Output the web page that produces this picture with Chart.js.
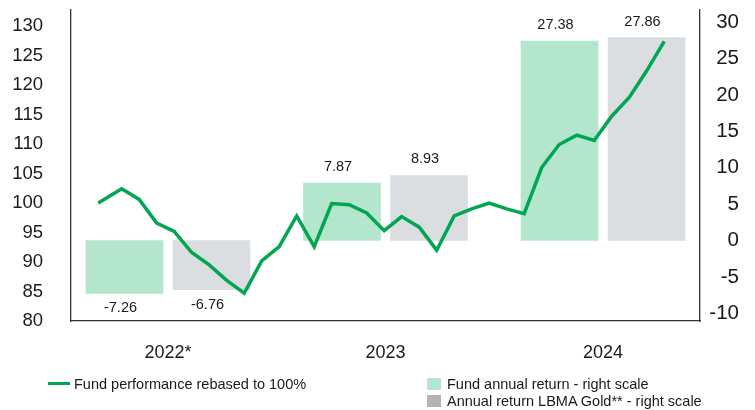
<!DOCTYPE html>
<html>
<head>
<meta charset="utf-8">
<title>Fund performance</title>
<script src="https://cdn.jsdelivr.net/npm/chart.js@4.4.1/dist/chart.umd.min.js"></script>
<style>
    html, body { margin: 0; padding: 0; background: #fff; }
    #wrap {
        position: relative;
        width: 755px;
        height: 410px;
        font-family: "Liberation Sans", Arial, sans-serif;
        color: #1a1a1a;
    }
    #chart { position: absolute; left: 0; top: 0; }
    .legend-item {
        position: absolute;
        font-size: 14.5px;
        line-height: 16px;
        white-space: nowrap;
    }
    .legend-swatch { position: absolute; }
</style>
</head>
<body>
<div id="wrap">
    <canvas id="chart" width="755" height="410"></canvas>
    <div id="legend"></div>
</div>
<script>
// Year groups on the bottom axis
const years = ['2022*', '2023', '2024'];

// Annual returns in % (right scale)
const fundReturns = [-7.26, 7.87, 27.38];
const goldReturns = [-6.76, 8.93, 27.86];

// Fund performance rebased to 100 (left scale): launch point, then month ends
const perfValues = [
    100.0, 102.4, 100.6, 96.6, 95.2, 91.6, 89.5, 86.9, 84.7, 90.2, 92.6,
    97.8, 92.6, 99.9, 99.7, 98.3, 95.3, 97.7, 95.9, 92.0, 97.8, 99.0,
    100.0, 99.0, 98.2, 106.0, 109.9, 111.5, 110.6, 114.7, 117.9, 122.4, 127.4
];
// launch falls part way into the month before the first month end
const launchOffset = -1.34;

// Tick labels
const leftTicks = [80, 85, 90, 95, 100, 105, 110, 115, 120, 125, 130];
const rightTicks = [-10, -5, 0, 5, 10, 15, 20, 25, 30];

const colors = {
    line: '#00a651',
    fundBar: '#b4e6cd',
    goldBar: '#dadee1',
    goldLegend: '#b3b3b3',
    axis: '#333333',
    text: '#1a1a1a'
};
const fontFamily = '"Liberation Sans", Arial, sans-serif';

// year axis range; the two bar series sit either side of the year centre
const yearMin = -0.446;
const yearMax = 2.446;
const groupShift = 0.2;

const perfPoints = perfValues.map((v, i) => ({
    x: i === 0 ? launchOffset : i - 1,
    y: v
}));

/**
 * Draw the value above (or below, if negative) each annual return bar
 */
const barValueLabels = {
    id: 'barValueLabels',
    afterDatasetsDraw(chart) {
        const ctx = chart.ctx;
        ctx.save();
        ctx.font = '14.5px ' + fontFamily;
        ctx.fillStyle = colors.text;
        ctx.textAlign = 'center';
        ctx.textBaseline = 'middle';
        chart.data.datasets.forEach((ds, di) => {
            if (ds.type !== 'bar') return;
            chart.getDatasetMeta(di).data.forEach((bar, i) => {
                const v = ds.data[i].y;
                const y = v >= 0 ? bar.y - 16 : bar.y + 15;
                ctx.fillText(v.toFixed(2), bar.x - 4, y);
            });
        });
        ctx.restore();
    }
};

// fixed axis sizes so the plot area lands where the original one is
function fixWidth(w) {
    return (scale) => {
        scale.width = w;
        scale.paddingTop = 0;
        scale.paddingBottom = 0;
    };
}

// hidden year axis shifted so one series lands left or right of centre
function barAxis(shift) {
    return {
        type: 'linear',
        display: false,
        offset: false,
        min: yearMin - shift,
        max: yearMax - shift
    };
}

const config = {
    data: {
        datasets: [
            {
                type: 'line',
                label: 'Fund performance rebased to 100%',
                data: perfPoints,
                xAxisID: 'xLine',
                yAxisID: 'y',
                borderColor: colors.line,
                borderWidth: 3.5,
                pointRadius: 0,
                tension: 0,
                order: 0
            },
            {
                type: 'bar',
                label: 'Fund annual return - right scale',
                data: fundReturns.map((v, i) => ({ x: i, y: v })),
                xAxisID: 'xFund',
                yAxisID: 'y1',
                backgroundColor: colors.fundBar,
                grouped: false,
                barThickness: 77,
                order: 1
            },
            {
                type: 'bar',
                label: 'Annual return LBMA Gold** - right scale',
                data: goldReturns.map((v, i) => ({ x: i, y: v })),
                xAxisID: 'xGold',
                yAxisID: 'y1',
                backgroundColor: colors.goldBar,
                grouped: false,
                barThickness: 77,
                order: 1
            }
        ]
    },
    options: {
        responsive: false,
        animation: false,
        layout: {
            padding: { top: 10, right: 16, bottom: 44, left: 0 }
        },
        plugins: {
            legend: { display: false },
            tooltip: { enabled: false }
        },
        scales: {
            x: {
                type: 'linear',
                position: 'bottom',
                offset: false,
                min: yearMin,
                max: yearMax,
                grid: { display: false, drawTicks: false },
                border: { display: true, color: colors.axis, width: 1.3 },
                afterBuildTicks: (scale) => {
                    scale.ticks = years.map((_, i) => ({ value: i }));
                },
                afterFit: (scale) => {
                    scale.height = 45;
                    scale.paddingLeft = 0;
                    scale.paddingRight = 0;
                },
                ticks: {
                    padding: 21,
                    color: colors.text,
                    font: { family: fontFamily, size: 18 },
                    maxRotation: 0,
                    callback: (value) => years[value]
                }
            },
            xFund: barAxis(-groupShift),
            xGold: barAxis(groupShift),
            xLine: {
                type: 'linear',
                display: false,
                offset: false,
                min: -2.897,
                max: 33.046
            },
            y: {
                position: 'left',
                min: 80,
                max: 132.7,
                grid: { display: false, drawTicks: false },
                border: { display: true, color: colors.axis, width: 1.3 },
                afterBuildTicks: (scale) => {
                    scale.ticks = leftTicks.map(v => ({ value: v }));
                },
                afterFit: fixWidth(71),
                ticks: {
                    padding: 28,
                    color: colors.text,
                    font: { family: fontFamily, size: 18.5 }
                }
            },
            y1: {
                position: 'right',
                min: -11.06,
                max: 31.66,
                grid: { display: false, drawTicks: false },
                border: { display: true, color: colors.axis, width: 1.3 },
                afterBuildTicks: (scale) => {
                    scale.ticks = rightTicks.map(v => ({ value: v }));
                },
                afterFit: fixWidth(39),
                ticks: {
                    crossAlign: 'far',
                    color: colors.text,
                    font: { family: fontFamily, size: 20.5 }
                }
            }
        }
    },
    plugins: [barValueLabels]
};

const chart = new Chart(document.getElementById('chart'), config);

// Legend, laid out as in the original: line on the left, bars stacked on the right
const legendItems = [
    { label: config.data.datasets[0].label, kind: 'line', color: colors.line, x: 48, y: 384 },
    { label: config.data.datasets[1].label, kind: 'box', color: colors.fundBar, x: 427, y: 384 },
    { label: config.data.datasets[2].label, kind: 'box', color: colors.goldLegend, x: 427, y: 401 }
];
const legendEl = document.getElementById('legend');
legendItems.forEach(item => {
    const sw = document.createElement('div');
    sw.className = 'legend-swatch';
    sw.style.background = item.color;
    if (item.kind === 'line') {
        sw.style.left = item.x + 'px';
        sw.style.top = (item.y - 2) + 'px';
        sw.style.width = '22px';
        sw.style.height = '3px';
    } else {
        sw.style.left = item.x + 'px';
        sw.style.top = (item.y - 6) + 'px';
        sw.style.width = '14px';
        sw.style.height = '12px';
    }
    legendEl.appendChild(sw);

    const txt = document.createElement('div');
    txt.className = 'legend-item';
    txt.textContent = item.label;
    txt.style.left = (item.kind === 'line' ? item.x + 26 : item.x + 20) + 'px';
    txt.style.top = (item.y - 8) + 'px';
    legendEl.appendChild(txt);
});
</script>
</body>
</html>
